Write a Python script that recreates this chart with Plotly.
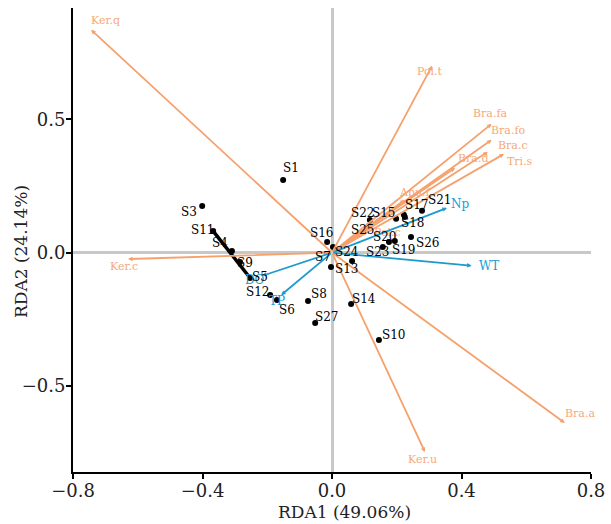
import plotly.graph_objects as go

# ---- data ----
species = ["Ker.q", "Pol.t", "Bra.fa", "Bra.fo", "Bra.c", "Tri.s", "Bra.d", "Apu.f", "Pol.c", "Ker.c", "Ker.u", "Bra.a"]
sp_x = [-0.744, 0.309, 0.493, 0.493, 0.481, 0.531, 0.380, 0.225, 0.123, -0.630, 0.287, 0.719]
sp_y = [0.836, 0.701, 0.483, 0.423, 0.378, 0.370, 0.318, 0.198, 0.100, -0.024, -0.748, -0.639]

env = ["Np", "WT", "DO", "TP"]
env_x = [0.355, 0.431, -0.216, -0.157]
env_y = [0.168, -0.049, -0.087, -0.159]

samples = ["S1", "S3", "S4", "S5", "S6", "S7", "S8", "S9", "S10", "S11", "S12", "S13", "S14",
           "S15", "S16", "S17", "S18", "S19", "S20", "S21", "S22", "S23", "S24", "S25", "S26", "S27"]
smp_x = [-0.151, -0.401, -0.309, -0.253, -0.170, -0.003, -0.074, -0.284, 0.145, -0.367, -0.191, 0.062, 0.059,
         0.198, -0.015, 0.222, 0.225, 0.194, 0.176, 0.278, 0.117, 0.157, 0.003, 0.114, 0.244, -0.052]
smp_y = [0.273, 0.175, 0.006, -0.095, -0.178, -0.054, -0.181, -0.035, -0.328, 0.081, -0.159, -0.031, -0.193,
         0.127, 0.040, 0.142, 0.134, 0.044, 0.040, 0.157, 0.123, 0.021, 0.021, 0.100, 0.059, -0.264]

seg_x = [-0.367, -0.253]
seg_y = [0.081, -0.095]

x_ticks = [-0.8, -0.4, 0.0, 0.4, 0.8]
y_ticks = [-0.5, 0.0, 0.5]
x_title = "RDA1 (49.06%)"
y_title = "RDA2 (24.14%)"

# ---- label offsets (pixels, dx right, dy down) ----
sp_off = [(14, -9), (-2, 6), (-2, -10), (16, -9), (25, -6), (16, 7), (18, -9), (10, -7), (16, 6), (-4, 7), (-2, 7), (15, -9)]
env_off = [(14, -4), (17, 0), (-7, 4), (-4, 6)]
smp_off = {"S1": (8, -12), "S3": (-13, 6), "S4": (-12, -8), "S5": (10, -1), "S6": (10, 10), "S7": (-8, -10),
           "S8": (11, -7), "S9": (5, 1), "S10": (15, -5), "S11": (-10, -1), "S12": (-12, -3), "S13": (-5, 8),
           "S14": (13, -5), "S15": (-12, -6), "S16": (-5, -9), "S17": (13, -10), "S18": (8, 6), "S19": (9, 9),
           "S20": (-4, -5), "S21": (18, -11), "S22": (-7, -7), "S23": (-5, 5), "S24": (14, 5), "S25": (-6, 4),
           "S26": (17, 6), "S27": (12, -6)}

ORANGE = "#F6A06C"
LABEL_ORANGE = "#F7A878"
BLUE = "#1C9BD1"
FONT = "DejaVu Serif"

fig = go.Figure()

fig.add_trace(go.Scatter(x=smp_x, y=smp_y, mode="markers",
                         marker=dict(color="black", size=6), hoverinfo="skip", showlegend=False))
fig.add_trace(go.Scatter(x=seg_x, y=seg_y, mode="lines",
                         line=dict(color="black", width=3.5), hoverinfo="skip", showlegend=False))

ann = []
for name, x, y, (dx, dy) in zip(species, sp_x, sp_y, sp_off):
    ann.append(dict(x=x, y=y, ax=0, ay=0, axref="x", ayref="y", xref="x", yref="y", text="",
                    showarrow=True, arrowhead=2, arrowsize=0.5, arrowwidth=1.8, arrowcolor=ORANGE, standoff=0))
    ann.append(dict(x=x, y=y, xref="x", yref="y", text=name, showarrow=False,
                    xshift=dx, yshift=-dy, font=dict(family=FONT, size=11, color=LABEL_ORANGE)))
for name, x, y, (dx, dy) in zip(env, env_x, env_y, env_off):
    ann.append(dict(x=x, y=y, ax=0, ay=0, axref="x", ayref="y", xref="x", yref="y", text="",
                    showarrow=True, arrowhead=2, arrowsize=0.5, arrowwidth=1.8, arrowcolor=BLUE, standoff=0))
    ann.append(dict(x=x, y=y, xref="x", yref="y", text=name, showarrow=False,
                    xshift=dx, yshift=-dy, font=dict(family=FONT, size=12, color=BLUE)))
for name, x, y in zip(samples, smp_x, smp_y):
    dx, dy = smp_off[name]
    ann.append(dict(x=x, y=y, xref="x", yref="y", text=name, showarrow=False,
                    xshift=dx, yshift=-dy, font=dict(family=FONT, size=12, color="black")))

# axis titles as paper-anchored annotations
ann.append(dict(x=0.5, y=0, xref="paper", yref="paper", text=x_title, showarrow=False,
                xanchor="center", yanchor="middle", xshift=12, yshift=-40,
                font=dict(family=FONT, size=17, color="#222")))
ann.append(dict(x=0, y=0.5, xref="paper", yref="paper", text=y_title, showarrow=False, textangle=-90,
                xanchor="center", yanchor="middle", xshift=-52, yshift=-12,
                font=dict(family=FONT, size=17, color="#222")))

axis_common = dict(showgrid=False, showline=True, linecolor="black", linewidth=2,
                   ticks="outside", ticklen=5, tickwidth=2, tickcolor="black",
                   zeroline=True, zerolinecolor="#C8C8C8", zerolinewidth=3, automargin=False,
                   tickfont=dict(family=FONT, size=18, color="#222"))

fig.update_layout(
    width=611, height=524,
    margin=dict(l=73, r=20, t=8, b=52),
    plot_bgcolor="white", paper_bgcolor="white",
    annotations=ann,
    xaxis=dict(range=[-0.8, 0.8], tickvals=x_ticks, tickformat=".1f", ticklabelstandoff=-4, **axis_common),
    yaxis=dict(range=[-0.823, 0.918], tickvals=y_ticks, tickformat=".1f", ticklabelstandoff=-3, **axis_common),
)

fig.write_html("out.html", config={"displayModeBar": False},
               post_script="document.body.style.margin='0';document.body.style.overflow='hidden';")
